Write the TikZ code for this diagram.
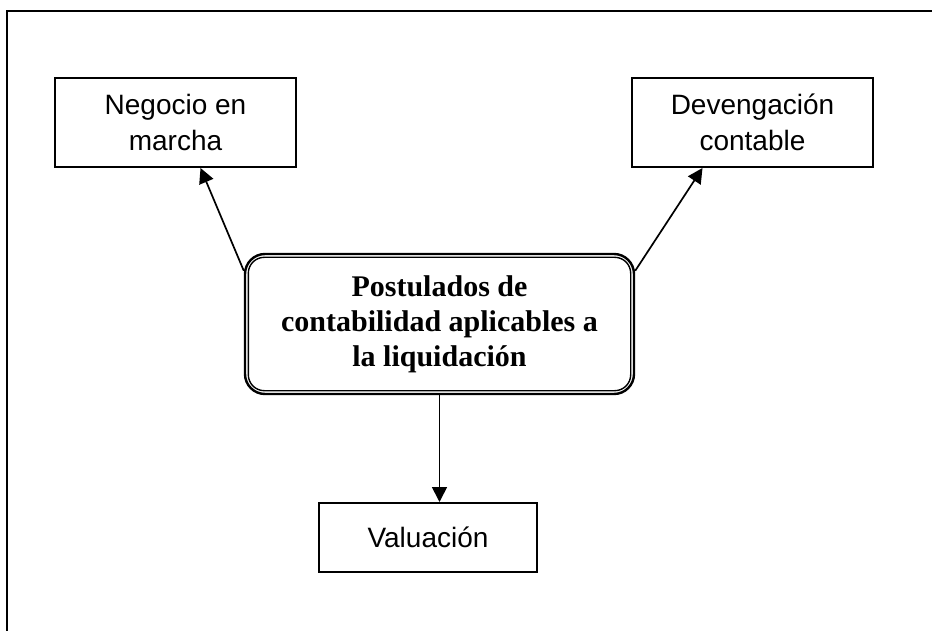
\documentclass[tikz,border=0pt]{standalone}
\usepackage{fontspec}
\setmainfont{Liberation Serif}
\setsansfont{Liberation Sans}
\usetikzlibrary{arrows.meta}

\tikzset{
  caja/.style={draw, line width=2pt, align=center, inner sep=0pt,
    font=\sffamily\fontsize{28}{36}\selectfont},
  central/.style={draw, line width=2.4pt, rounded corners=20pt, align=center,
    inner sep=0pt, font=\bfseries\fontsize{30}{35}\selectfont},
  flecha/.style={-{Triangle[length=15pt,width=15pt]}, line width=1.7pt},
}

\begin{document}
\begin{tikzpicture}[x=1pt,y=-1pt]
\useasboundingbox (0,0) rectangle (932,631);
\coordinate (N) at (175.5,122.5);
\coordinate (D) at (752.5,122.5);
\coordinate (P) at (439.5,324);
\coordinate (V) at (428,537.5);

% marco
\draw[line width=2.2pt] (7,631) -- (7,11) -- (932,11);

\node[caja, minimum width=241pt, minimum height=89pt] (neg) at (N) {Negocio en\\marcha};
\node[caja, minimum width=241pt, minimum height=89pt] (dev) at (D) {Devengación\\contable};
\node[caja, minimum width=218pt, minimum height=69pt] (val) at (V) {Valuación};
\node[central, minimum width=389pt, minimum height=140pt] (post) at (P)
  {Postulados de\\contabilidad aplicables a\\la liquidación};
\draw[line width=1.4pt, rounded corners=16pt]
  ([shift={(4.5pt,-4.5pt)}]post.north west) rectangle ([shift={(-4.5pt,4.5pt)}]post.south east);

\coordinate (pl) at ([yshift=-18pt]post.north west);
\coordinate (pr) at ([yshift=-18pt]post.north east);
\draw[flecha] (pl) -- ([xshift=25pt]neg.south);
\draw[flecha] (pr) -- ([xshift=-50pt]dev.south);
\draw[flecha] (post.south) -- (post.south |- val.north);
\end{tikzpicture}
\end{document}
